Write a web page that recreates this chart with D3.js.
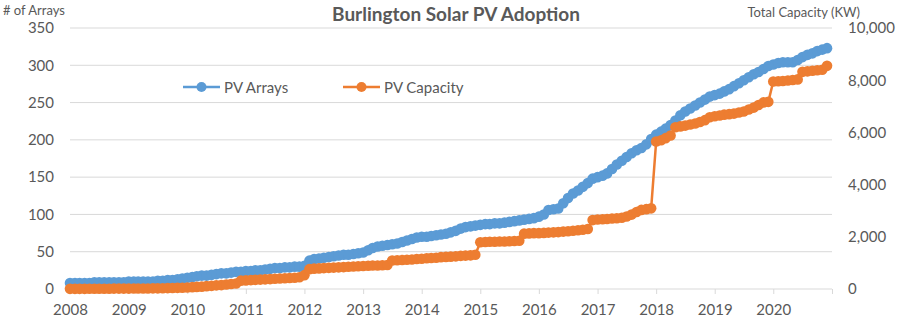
<!DOCTYPE html>
<html>
<head>
<meta charset="utf-8">
<script src="https://cdn.jsdelivr.net/npm/d3@7"></script>
<style>
  html, body { margin: 0; padding: 0; background: #fff; }
  svg { display: block; font-family: Lato, "Open Sans", sans-serif; }
</style>
</head>
<body>
<svg id="chart" width="900" height="323"></svg>
<script>
// ---- Data (monthly, Jan 2008 – Dec 2020) ----
const years = [2008, 2009, 2010, 2011, 2012, 2013, 2014, 2015, 2016, 2017, 2018, 2019, 2020];

const pvArrays = [
  8, 8, 8, 8, 8, 9, 9, 9, 9, 9, 9, 9,
  10, 10, 10, 10, 10, 10, 11, 11, 12, 12, 13, 14,
  15, 16, 17, 18, 18, 19, 20, 21, 21, 22, 23, 23,
  24, 24, 25, 25, 26, 27, 28, 28, 29, 29, 30, 30,
  31, 38, 40, 41, 42, 43, 44, 45, 46, 46, 47, 48,
  49, 52, 55, 57, 58, 59, 60, 61, 63, 65, 67, 69,
  70, 70, 71, 72, 73, 74, 76, 78, 81, 83, 84, 85,
  86, 87, 87, 88, 88, 89, 90, 91, 92, 93, 94, 95,
  97, 100, 106, 107, 108, 115, 122, 128, 132, 137, 142, 148,
  150, 152, 155, 161, 167, 172, 177, 182, 186, 189, 194, 201,
  207, 211, 215, 220, 226, 233, 238, 242, 246, 250, 254, 258,
  260, 262, 265, 268, 272, 276, 280, 284, 288, 291, 295, 299,
  301, 303, 304, 304, 304, 307, 311, 314, 316, 319, 321, 323
];

const pvCapacity = [
  5, 5, 5, 5, 10, 10, 10, 10, 10, 15, 15, 15,
  15, 20, 20, 20, 20, 25, 25, 30, 35, 40, 45, 50,
  60, 70, 80, 90, 110, 120, 140, 150, 170, 190, 210, 320,
  330, 340, 350, 360, 370, 380, 390, 400, 410, 420, 430, 450,
  530, 760, 780, 790, 800, 810, 820, 830, 840, 850, 860, 870,
  880, 890, 900, 900, 910, 920, 1090, 1100, 1110, 1120, 1130, 1150,
  1160, 1180, 1190, 1200, 1220, 1230, 1240, 1250, 1270, 1280, 1290, 1310,
  1790, 1800, 1810, 1810, 1820, 1820, 1830, 1840, 1850, 2120, 2130, 2140,
  2140, 2150, 2160, 2170, 2180, 2200, 2210, 2230, 2250, 2270, 2300, 2640,
  2660, 2670, 2680, 2700, 2710, 2730, 2780, 2850, 2950, 3030, 3060, 3090,
  5650, 5700, 5780, 5880, 6200, 6230, 6260, 6300, 6340, 6400, 6470, 6580,
  6620, 6650, 6680, 6700, 6720, 6760, 6800, 6880, 6950, 7050, 7150, 7170,
  7950, 7960, 7970, 7990, 8010, 8030, 8320, 8340, 8360, 8380, 8400, 8550
];

const leftTicks = [0, 50, 100, 150, 200, 250, 300, 350];
const rightTicks = [0, 2000, 4000, 6000, 8000, 10000];
const yearTicks = [2008, 2009, 2010, 2011, 2012, 2013, 2014, 2015, 2016, 2017, 2018, 2019, 2020];

const titleText = "Burlington Solar PV Adoption";
const leftTitle = "# of Arrays";
const rightTitle = "Total Capacity (KW)";
const seriesNames = ["PV Arrays", "PV Capacity"];
const colors = ["#5B9BD5", "#ED7D31"];

// ---- Build dated rows ----
const dates = [];
years.forEach(y => { for (let m = 0; m < 12; m++) dates.push(new Date(y, m, 1)); });
const arraysData = dates.map((d, i) => ({ d, v: pvArrays[i] }));
const capData = dates.map((d, i) => ({ d, v: pvCapacity[i] }));

// ---- Layout ----
const svg = d3.select("#chart");
const L = 70, R = 832, T = 28, B = 289;
const textColor = "#595959";
const FONT = "Lato, 'Open Sans', sans-serif";

const x = d3.scaleTime().domain([new Date(2008, 0, 1), new Date(2021, 0, 1)]).range([L, R]);
const yL = d3.scaleLinear().domain([0, 350]).range([B, T]);
const yR = d3.scaleLinear().domain([0, 10000]).range([B, T]);

// gridlines
svg.append("g").selectAll("line").data(leftTicks.filter(t => t > 0)).join("line")
  .attr("x1", L).attr("x2", R)
  .attr("y1", d => yL(d)).attr("y2", d => yL(d))
  .attr("stroke", "#D9D9D9").attr("stroke-width", 1);

// x axis
const xAxis = d3.axisBottom(x)
  .tickValues(yearTicks.map(y => new Date(y, 0, 1)).concat([new Date(2021, 0, 1)]))
  .tickFormat(d => d.getFullYear() <= 2020 ? d.getFullYear() : "")
  .tickSize(5).tickPadding(10);
const gx = svg.append("g").attr("transform", `translate(0,${B})`).call(xAxis);
gx.select(".domain").attr("stroke", "#D9D9D9").attr("d", `M${L},0H${R}`);
gx.selectAll(".tick line").attr("stroke", "#D9D9D9");
gx.selectAll(".tick text").attr("fill", textColor).style("font-size", "15px")
  .style("font-family", FONT);

// left axis
const gyl = svg.append("g").attr("transform", `translate(${L},0)`)
  .call(d3.axisLeft(yL).tickValues(leftTicks).tickSize(0).tickPadding(16));
gyl.select(".domain").remove();
gyl.selectAll(".tick text").attr("fill", textColor).style("font-size", "15px")
  .style("font-family", FONT);

// right axis
const gyr = svg.append("g").attr("transform", `translate(${R},0)`)
  .call(d3.axisRight(yR).tickValues(rightTicks).tickSize(0).tickPadding(16)
    .tickFormat(d3.format(",")));
gyr.select(".domain").remove();
gyr.selectAll(".tick text").attr("fill", textColor).style("font-size", "15px")
  .style("font-family", FONT);

// titles
svg.append("text").attr("x", 456).attr("y", 21).attr("text-anchor", "middle")
  .attr("fill", textColor).style("font-size", "19px").style("font-weight", "bold")
  .style("font-family", FONT).text(titleText);
svg.append("text").attr("x", 3).attr("y", 15).attr("fill", textColor)
  .style("font-size", "13px").style("font-family", FONT).text(leftTitle);
svg.append("text").attr("x", 860).attr("y", 17).attr("text-anchor", "end").attr("fill", textColor)
  .style("font-size", "13px").style("font-family", FONT).text(rightTitle);

// series
function drawSeries(data, yScale, color) {
  const g = svg.append("g");
  g.append("path").datum(data)
    .attr("fill", "none").attr("stroke", color).attr("stroke-width", 2.5)
    .attr("stroke-linejoin", "round")
    .attr("d", d3.line().x(d => x(d.d)).y(d => yScale(d.v)));
  g.selectAll("circle").data(data).join("circle")
    .attr("cx", d => x(d.d)).attr("cy", d => yScale(d.v)).attr("r", 5.3)
    .attr("fill", color);
}
drawSeries(arraysData, yL, colors[0]);
drawSeries(capData, yR, colors[1]);

// legend
const legendItems = [{ x: 183, name: seriesNames[0], c: colors[0] }, { x: 343, name: seriesNames[1], c: colors[1] }];
const lg = svg.append("g");
legendItems.forEach(it => {
  lg.append("line").attr("x1", it.x).attr("x2", it.x + 37).attr("y1", 87).attr("y2", 87)
    .attr("stroke", it.c).attr("stroke-width", 2.5);
  lg.append("circle").attr("cx", it.x + 18.5).attr("cy", 87).attr("r", 5).attr("fill", it.c);
  lg.append("text").attr("x", it.x + 41).attr("y", 92.5).attr("fill", textColor)
    .style("font-size", "15px").style("font-family", FONT).text(it.name);
});
</script>
</body>
</html>
